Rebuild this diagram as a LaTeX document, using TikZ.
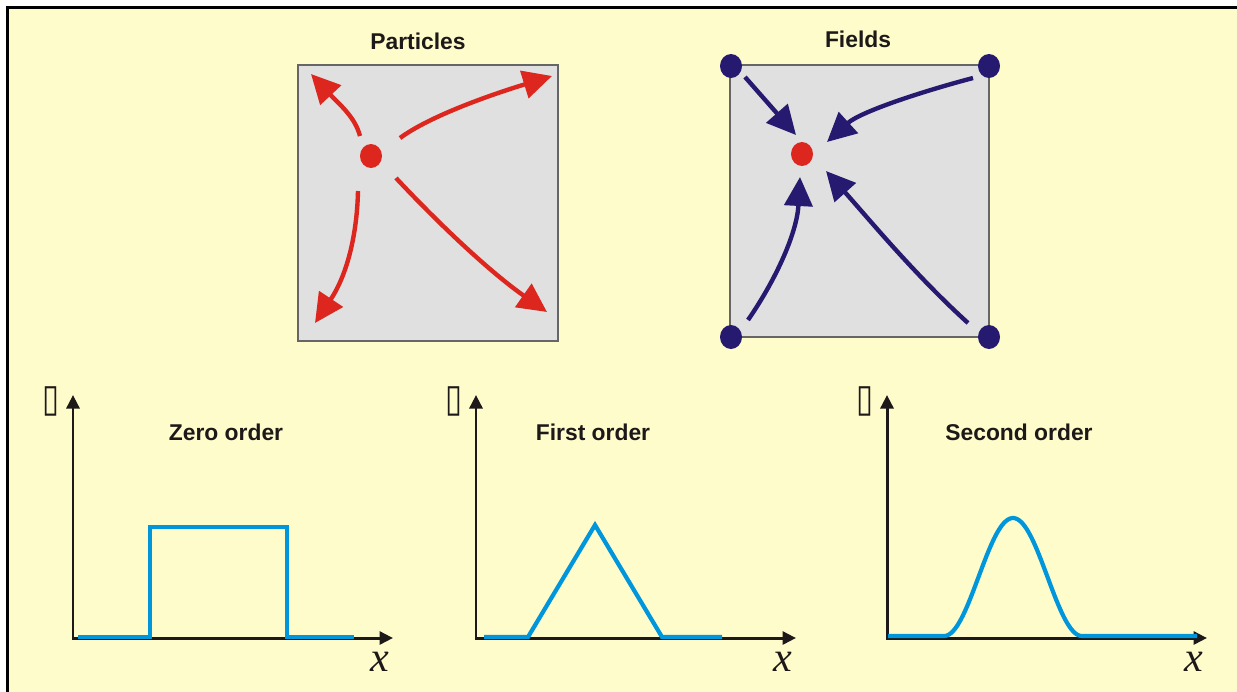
\documentclass[tikz,border=0pt]{standalone}
\usepackage{fontspec}
\setmainfont{Liberation Sans}
\newfontfamily\xfont{Liberation Serif}
\newfontfamily\boxfont{DejaVu Sans}
\usepackage{xcolor}
\usetikzlibrary{arrows.meta,shapes.geometric}

\definecolor{paper}{RGB}{255,252,204}
\definecolor{cellgray}{RGB}{224,224,224}
\definecolor{pred}{RGB}{220,38,30}
\definecolor{navy}{RGB}{38,26,112}
\definecolor{wtblue}{RGB}{0,150,220}
\definecolor{ink}{RGB}{30,25,25}

\begin{document}
\begin{tikzpicture}[x=0.02cm,y=-0.02cm,
  ttl/.style={font=\fontsize{13}{15}\selectfont\bfseries,text=ink,inner sep=0pt},
  cell/.style={draw=black!60,line width=0.8pt,fill=cellgray},
  dot/.style={ellipse,fill=#1,minimum width=0.44cm,minimum height=0.48cm,inner sep=0pt},
  mv/.style={line width=2.5pt,#1,-{Triangle[length=0.58cm,width=0.56cm]}},
  ax/.style={ink,line width=1.7pt,{Triangle[length=0.27cm,width=0.26cm]}-{Triangle[length=0.27cm,width=0.26cm]}},
  wt/.style={wtblue,line width=2.4pt,line join=miter},
  glyph/.style={font=\boxfont\fontsize{22}{22}\selectfont,text=ink,inner sep=0pt,xscale=0.8},
  xlab/.style={font=\xfont\itshape\fontsize{24}{24}\selectfont,text=ink,inner sep=0pt}]
 \useasboundingbox (0,0) rectangle (1237,691);
 \fill[white] (0,0) rectangle (1237,691);
 \draw[line width=1.7pt,fill=paper] (7.5,7.5) rectangle (1260,720);
 % particles
 \node[ttl] (tp) at (418,41) {Particles};
 \draw[cell] (298,65) rectangle (558,341);
 \node[dot=pred] (P) at (371,156) {};
 \coordinate (p1) at (360,136); \coordinate (q1) at (311,74);
 \coordinate (p2) at (400,138); \coordinate (q2) at (552,76);
 \coordinate (p3) at (358,191); \coordinate (q3) at (315,323);
 \coordinate (p4) at (396,178); \coordinate (q4) at (547,312);
 \draw[mv=pred] (p1) .. controls (355,117) and (340,105) .. (q1);
 \draw[mv=pred] (p2) .. controls (430,116) and (490,95) .. (q2);
 \draw[mv=pred] (p3) .. controls (357,235) and (347,275) .. (q3);
 \draw[mv=pred] (p4) .. controls (440,225) and (490,272) .. (q4);
 % fields
 \node[ttl] (tf) at (858,39) {Fields};
 \draw[cell] (730,65) rectangle (989,337);
 \node[dot=navy] (c1) at (731,66) {};
 \node[dot=navy] (c2) at (989,66) {};
 \node[dot=navy] (c3) at (731,337) {};
 \node[dot=navy] (c4) at (989,337) {};
 \node[dot=pred] (F) at (802,154) {};
 \coordinate (f1) at (745,77); \coordinate (g1) at (796,135);
 \coordinate (f2) at (973,78); \coordinate (g2) at (827,142);
 \coordinate (f3) at (748,320); \coordinate (g3) at (800,177);
 \coordinate (f4) at (968,323); \coordinate (g4) at (826,171);
 \draw[mv=navy] (f1) -- (g1);
 \draw[mv=navy] (f2) .. controls (920,92) and (860,112) .. (g2);
 \draw[mv=navy] (f3) .. controls (777,278) and (797,232) .. (g3);
 \draw[mv=navy] (f4) .. controls (915,275) and (868,218) .. (g4);
 % shape functions
 \foreach \ox/\tx/\nm [count=\i] in {73/226/Zero order,476/593/First order,887/1019/Second order} {
   \node[glyph] (b\i) at (\ox-22,401) {▯};
   \coordinate (yt\i) at (\ox,395);
   \coordinate (xt\i) at (\ox+320,638);
   \draw[ax] (yt\i) |- (xt\i);
   \node[ttl] (t\i) at (\tx,432) {\nm};
   \node[xlab] (x\i) at (\ox+307,662) {x};
 }
 \draw[wt] (78,637) -- (150,637) -- (150,527) -- (287,527) -- (287,637) -- (354,637);
 \draw[wt] (484,637) -- (528,637) -- (595,525) -- (662,637) -- (722,637);
 \draw[wt] (888,636) -- (944,636)
   plot[domain=944:1082,samples=80] (\x,{636-118*(1+cos(180*(\x-1013)/69))/2})
   -- (1197,636);
\end{tikzpicture}
\end{document}
